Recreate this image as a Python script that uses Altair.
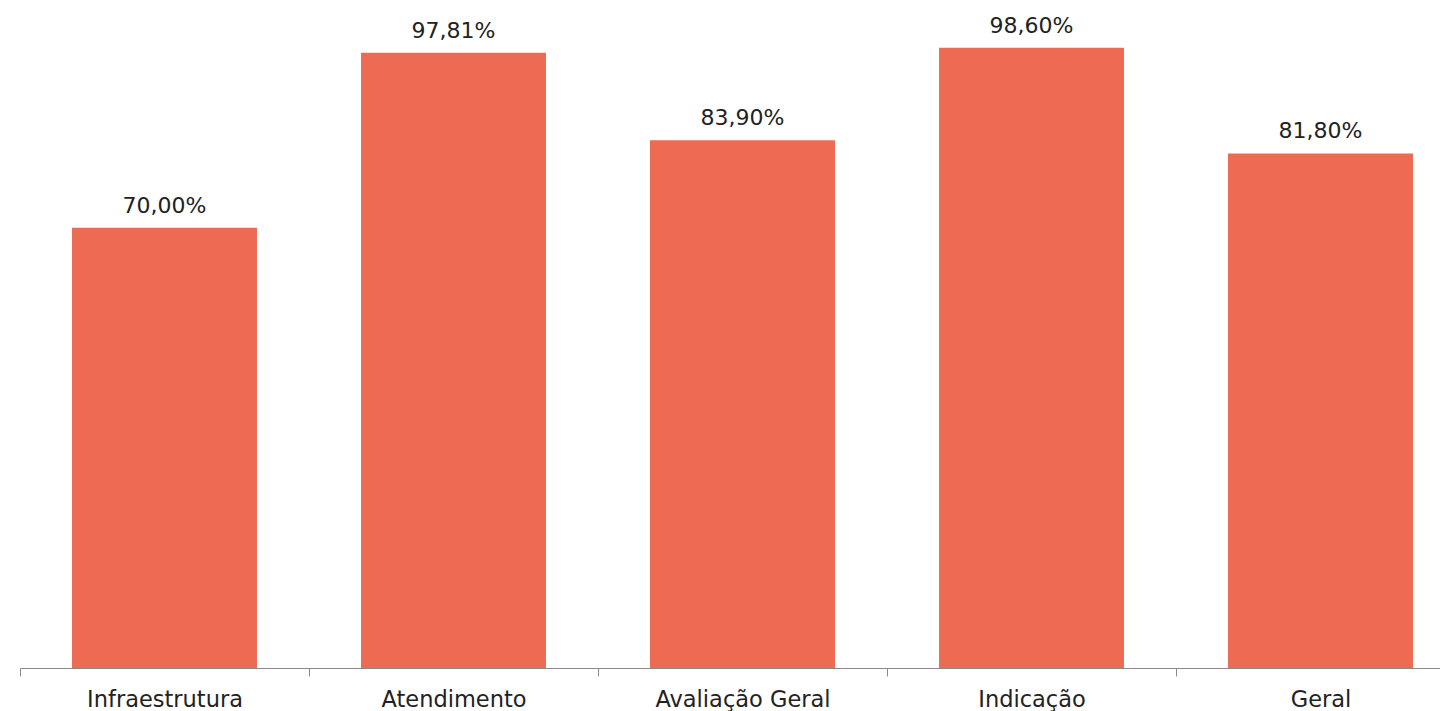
import altair as alt
import pandas as pd

categories = ["Infraestrutura", "Atendimento", "Avaliação Geral", "Indicação", "Geral"]
values = [70.00, 97.81, 83.90, 98.60, 81.80]
labels = ["70,00%", "97,81%", "83,90%", "98,60%", "81,80%"]

df = pd.DataFrame({"cat": categories, "val": values, "label": labels})

FONT = "DejaVu Sans"

x = alt.X(
    "cat:N",
    sort=categories,
    title=None,
    scale=alt.Scale(range=[0, 1445], paddingInner=0, paddingOuter=0),
    axis=alt.Axis(
        labelAngle=0,
        labelFont=FONT,
        labelFontSize=22.5,
        labelColor="#222222",
        labelBaseline="alphabetic",
        labelPadding=30,
        tickBand="extent",
        tickSize=8,
        tickColor="#8a8a8a",
        domainColor="#8a8a8a",
        domainWidth=1.2,
        grid=False,
    ),
)
y = alt.Y("val:Q", scale=alt.Scale(domain=[0, 100], nice=False), axis=None)

bars = alt.Chart(df).mark_bar(color="#ED6A53", width={"band": 0.64}).encode(x=x, y=y)
text = alt.Chart(df).mark_text(
    font=FONT, fontSize=22, color="#222222", baseline="alphabetic", dy=-15
).encode(x=x, y=y, text="label:N")

chart = (
    alt.layer(bars, text)
    .properties(
        width=1420,
        height=629,
        background="white",
        autosize=alt.AutoSizeParams(type="none"),
        padding={"left": 12, "top": 31, "right": 0, "bottom": 43},
    )
    .configure_view(strokeWidth=0, stroke=None)
)

chart.save("out.html", embed_options={"renderer": "svg", "actions": False})
